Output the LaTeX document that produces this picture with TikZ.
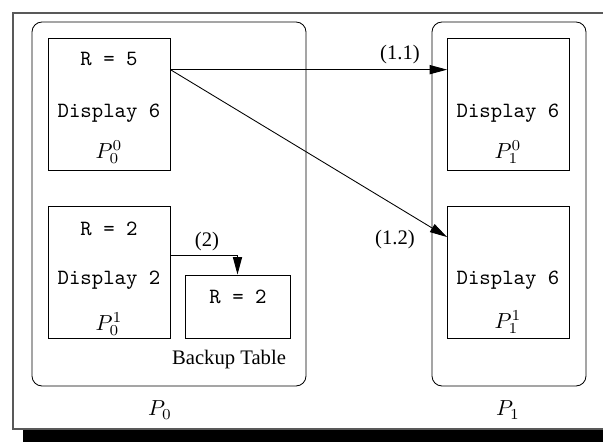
\documentclass[tikz,border=0pt]{standalone}
\usepackage{fontspec}
\newfontfamily\lblfont{Liberation Serif}
\usetikzlibrary{arrows.meta}
\begin{document}
\begin{tikzpicture}[x=0.46pt,y=-0.46pt,
  box/.style={draw,minimum width=56.1pt,minimum height=60.7pt,inner sep=0pt},
  grp/.style={draw,rounded corners=4.6pt},
  txt/.style={inner sep=0.5pt},
  lbl/.style={txt,font=\lblfont\fontsize{9.5}{11}\selectfont},
  tt/.style={txt,font=\ttfamily},
  arr/.style={-{Triangle[length=8pt,width=4.2pt]}}]
  \clip (0,0) rectangle (603,442);
  % frame and shadow
  \fill[black] (23,23) rectangle (625,450);
  \draw[gray!70!black,fill=white,line width=0.7pt] (13,13) rectangle (615,429);
  % the two groups
  \draw[grp] (32,22) rectangle (306,386);
  \draw[grp] (432,22) rectangle (586,386);
  \node[txt] (p0) at (160,410) {$P_0$};
  \node[txt] (p1) at (508,410) {$P_1$};

  \node[box] (p00) at (109,104) {};
  \node[tt] (r5) at (109,59) {R = 5};
  \node[tt] (d6a) at (109,113) {Display 6};
  \node[txt] (l00) at (109,152) {$P_0^0$};

  \node[box] (p01) at (109,272.5) {};
  \node[tt] (r2) at (109,229) {R = 2};
  \node[tt] (d2) at (109,280) {Display 2};
  \node[txt] (l01) at (109,324) {$P_0^1$};

  \node[draw,minimum width=48.3pt,minimum height=29pt,inner sep=0pt] (bk) at (237.5,306.5) {};
  \node[tt] (r2b) at (238,297) {R = 2};
  \node[lbl] (bkl) at (229,360) {Backup Table};

  \node[box] (p10) at (508.5,104) {};
  \node[tt] (d6b) at (508,113) {Display 6};
  \node[txt] (l10) at (508,152) {$P_1^0$};

  \node[box] (p11) at (508.5,272.5) {};
  \node[tt] (d6c) at (508,280) {Display 6};
  \node[txt] (l11) at (508,322) {$P_1^1$};

  % messages
  \draw[arr] ([yshift=15.8pt]p00.east) -- ([yshift=15.8pt]p10.west);
  \draw[arr] ([yshift=15.8pt]p00.east) -- ([yshift=16.3pt]p11.west);
  \draw[arr] ([yshift=8pt]p01.east) -| (bk.north);
  \node[lbl] (m11) at (400,55) {(1.1)};
  \node[lbl] (m12) at (395,240) {(1.2)};
  \node[lbl] (m2) at (207,242) {(2)};
\end{tikzpicture}
\end{document}
